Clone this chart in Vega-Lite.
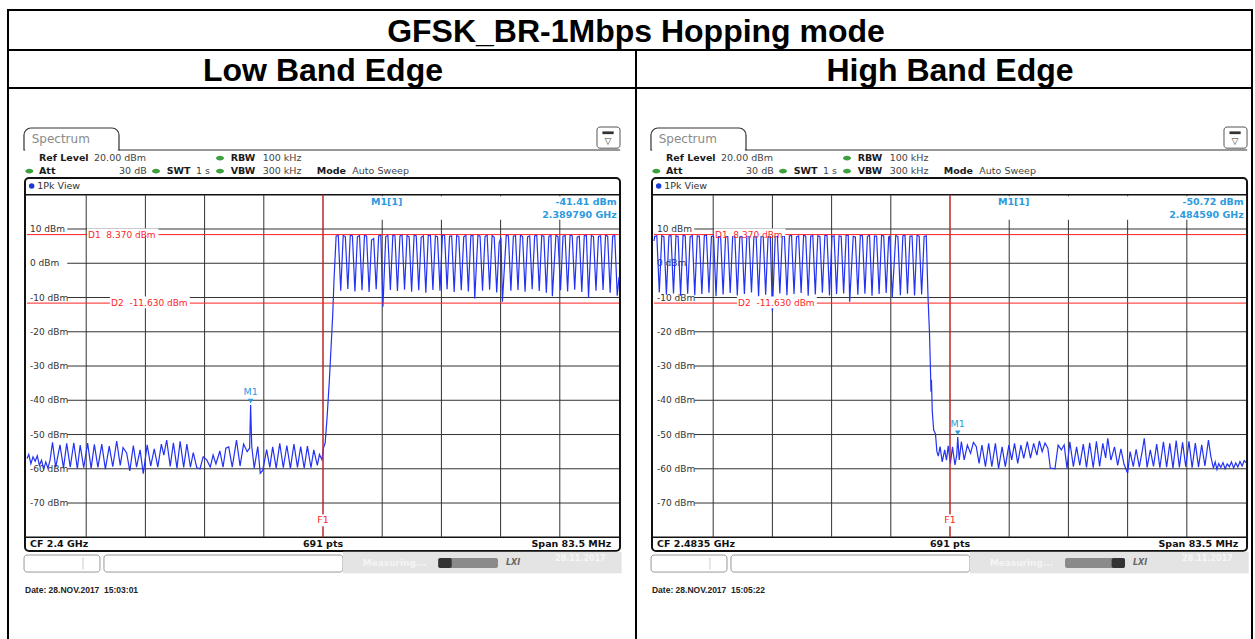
{
"$schema": "https://vega.github.io/schema/vega-lite/v6.json",
"padding": {"left": 7, "top": 9, "right": 0, "bottom": 0},
"background": "white",
"spacing": 0,
"bounds": "flush",
"config": {
  "axis": {"disable": true},
  "style": {
    "hb": {"font": "DejaVu Sans", "fontSize": 9.5, "fontWeight": "bold", "color": "#1a1a1a", "align": "left", "baseline": "middle"},
    "hn": {"font": "DejaVu Sans", "fontSize": 9.5, "fontWeight": "normal", "color": "#444444", "align": "left", "baseline": "middle"},
    "yl": {"font": "DejaVu Sans", "fontSize": 9, "color": "#333333", "align": "left", "baseline": "middle"},
    "rd": {"font": "DejaVu Sans", "fontSize": 9, "color": "#ff1f1f", "align": "left", "baseline": "middle"},
    "mk": {"font": "DejaVu Sans", "fontSize": 9.5, "fontWeight": "bold", "color": "#2d9ae0", "baseline": "middle"},
    "ft": {"font": "DejaVu Sans", "fontSize": 9.5, "fontWeight": "bold", "color": "#111111", "baseline": "middle"},
    "dt": {"font": "Liberation Sans", "fontSize": 8.5, "fontWeight": "bold", "color": "#222222", "align": "left", "baseline": "middle"}
  }
},
"datasets": {
  "hgrid": [{"v":10,"lab":"10 dBm"},{"v":0,"lab":"0 dBm"},{"v":-10,"lab":"-10 dBm"},{"v":-20,"lab":"-20 dBm"},{"v":-30,"lab":"-30 dBm"},{"v":-40,"lab":"-40 dBm"},{"v":-50,"lab":"-50 dBm"},{"v":-60,"lab":"-60 dBm"},{"v":-70,"lab":"-70 dBm"}],
  "vgrid": [{"d":1},{"d":2},{"d":3},{"d":4},{"d":5},{"d":6},{"d":7},{"d":8},{"d":9}],
  "low": [
{"f":2358.25,"p":-57.0},{"f":2358.5,"p":-55.8},{"f":2358.8,"p":-58.5},{"f":2359.1,"p":-56.5},{"f":2359.4,"p":-57.8},{"f":2359.7,"p":-56.2},{"f":2360.0,"p":-59.0},{"f":2360.3,"p":-57.5},{"f":2360.6,"p":-60.2},{"f":2360.9,"p":-58.0},{"f":2361.2,"p":-59.8},{"f":2361.5,"p":-57.5},{"f":2361.85,"p":-52.3},{"f":2362.3,"p":-59.6},{"f":2362.9,"p":-53.0},{"f":2363.4,"p":-59.8},{"f":2363.85,"p":-52.6},{"f":2364.35,"p":-59.5},{"f":2364.85,"p":-52.4},{"f":2365.35,"p":-60.0},{"f":2365.75,"p":-53.1},{"f":2366.25,"p":-59.7},{"f":2366.8,"p":-52.5},{"f":2367.3,"p":-59.9},{"f":2367.75,"p":-52.9},{"f":2368.25,"p":-59.6},{"f":2368.8,"p":-52.8},{"f":2369.3,"p":-60.1},{"f":2369.85,"p":-53.4},{"f":2370.35,"p":-59.4},{"f":2370.9,"p":-51.9},{"f":2371.4,"p":-59.0},{"f":2371.8,"p":-53.8},{"f":2372.3,"p":-55.4},{"f":2372.75,"p":-60.6},{"f":2373.25,"p":-53.2},{"f":2373.7,"p":-59.5},{"f":2374.2,"p":-54.5},{"f":2374.65,"p":-61.4},{"f":2375.2,"p":-53.0},{"f":2375.7,"p":-59.2},{"f":2376.2,"p":-54.2},{"f":2376.7,"p":-59.5},{"f":2377.2,"p":-52.8},{"f":2377.55,"p":-56.0},{"f":2377.95,"p":-51.6},{"f":2378.45,"p":-59.3},{"f":2378.9,"p":-52.4},{"f":2379.4,"p":-59.8},{"f":2379.85,"p":-52.0},{"f":2380.35,"p":-59.6},{"f":2380.8,"p":-52.8},{"f":2381.3,"p":-59.5},{"f":2381.7,"p":-55.3},{"f":2382.2,"p":-59.7},{"f":2382.65,"p":-60.0},{"f":2383.1,"p":-56.5},{"f":2383.6,"p":-57.4},{"f":2384.1,"p":-59.5},{"f":2384.5,"p":-56.0},{"f":2384.9,"p":-58.6},{"f":2385.45,"p":-54.8},{"f":2385.9,"p":-59.5},{"f":2386.3,"p":-54.0},{"f":2386.7,"p":-53.6},{"f":2387.2,"p":-59.5},{"f":2387.8,"p":-51.6},{"f":2388.3,"p":-59.2},{"f":2388.8,"p":-52.8},{"f":2389.3,"p":-55.0},{"f":2389.65,"p":-54.0},{"f":2389.79,"p":-41.41},{"f":2389.95,"p":-53.5},{"f":2390.3,"p":-59.8},{"f":2390.8,"p":-53.5},{"f":2391.15,"p":-61.3},{"f":2391.5,"p":-60.5},{"f":2392.05,"p":-54.4},{"f":2392.5,"p":-59.6},{"f":2392.9,"p":-53.6},{"f":2393.4,"p":-59.8},{"f":2393.9,"p":-52.6},{"f":2394.4,"p":-59.7},{"f":2394.9,"p":-53.2},{"f":2395.4,"p":-59.9},{"f":2395.9,"p":-52.8},{"f":2396.4,"p":-59.6},{"f":2396.85,"p":-53.5},{"f":2397.35,"p":-59.8},{"f":2397.8,"p":-53.4},{"f":2398.3,"p":-59.7},{"f":2398.7,"p":-54.5},{"f":2399.2,"p":-59.0},{"f":2399.5,"p":-55.8},{"f":2399.86,"p":-57.4},{"f":2400.05,"p":-54.0},{"f":2400.3,"p":-52.5},{"f":2400.55,"p":-45.8},{"f":2400.9,"p":-34.0},{"f":2401.15,"p":-24.0},{"f":2401.37,"p":-15.0},{"f":2401.55,"p":-5.0},
{"f":2401.85,"p":7.9},{"f":2402.15,"p":8.2},{"f":2402.5,"p":-8.0},
{"f":2402.85,"p":8.1},{"f":2403.15,"p":7.8},{"f":2403.5,"p":-7.5},
{"f":2403.85,"p":8.3},{"f":2404.15,"p":8.0},{"f":2404.5,"p":-8.2},
{"f":2404.85,"p":7.7},{"f":2405.15,"p":8.1},{"f":2405.5,"p":-7.9},
{"f":2405.85,"p":8.2},{"f":2406.15,"p":7.9},{"f":2406.5,"p":-8.4},
{"f":2406.85,"p":6.8},{"f":2407.15,"p":7.2},{"f":2407.5,"p":-7.6},
{"f":2407.85,"p":8.0},{"f":2408.15,"p":8.3},{"f":2408.45,"p":-12.7},
{"f":2408.85,"p":7.8},{"f":2409.15,"p":8.1},{"f":2409.5,"p":-7.8},
{"f":2409.85,"p":8.2},{"f":2410.15,"p":8.0},{"f":2410.5,"p":-8.1},
{"f":2410.85,"p":7.9},{"f":2411.15,"p":8.3},{"f":2411.5,"p":-7.7},
{"f":2411.85,"p":8.1},{"f":2412.15,"p":7.7},{"f":2412.5,"p":-8.3},
{"f":2412.85,"p":8.3},{"f":2413.15,"p":8.0},{"f":2413.5,"p":-7.9},
{"f":2413.85,"p":7.6},{"f":2414.15,"p":8.0},{"f":2414.5,"p":-8.6},
{"f":2414.85,"p":8.2},{"f":2415.15,"p":8.1},{"f":2415.5,"p":-7.8},
{"f":2415.85,"p":8.0},{"f":2416.15,"p":7.7},{"f":2416.5,"p":-8.0},
{"f":2416.85,"p":8.3},{"f":2417.15,"p":8.2},{"f":2417.5,"p":-7.6},
{"f":2417.85,"p":7.9},{"f":2418.15,"p":8.0},{"f":2418.5,"p":-8.4},
{"f":2418.85,"p":8.1},{"f":2419.15,"p":7.8},{"f":2419.5,"p":-7.9},
{"f":2419.85,"p":7.7},{"f":2420.15,"p":8.2},{"f":2420.5,"p":-8.2},
{"f":2420.85,"p":8.0},{"f":2421.15,"p":8.1},{"f":2421.4,"p":-10.3},
{"f":2421.85,"p":8.2},{"f":2422.15,"p":7.9},{"f":2422.5,"p":-8.0},
{"f":2422.85,"p":7.8},{"f":2423.15,"p":8.3},{"f":2423.5,"p":-7.7},
{"f":2423.85,"p":8.1},{"f":2424.15,"p":7.6},{"f":2424.5,"p":-8.5},
{"f":2424.85,"p":6.0},{"f":2425.1,"p":7.5},{"f":2425.3,"p":-11.2},
{"f":2425.85,"p":8.2},{"f":2426.15,"p":8.0},{"f":2426.5,"p":-8.0},
{"f":2426.85,"p":7.9},{"f":2427.15,"p":8.1},{"f":2427.5,"p":-7.8},
{"f":2427.85,"p":8.3},{"f":2428.15,"p":7.8},{"f":2428.5,"p":-8.3},
{"f":2428.85,"p":7.7},{"f":2429.15,"p":8.0},{"f":2429.5,"p":-7.6},
{"f":2429.85,"p":8.0},{"f":2430.15,"p":8.2},{"f":2430.5,"p":-8.1},
{"f":2430.85,"p":8.1},{"f":2431.15,"p":7.9},{"f":2431.5,"p":-8.6},
{"f":2431.85,"p":7.8},{"f":2432.15,"p":8.2},{"f":2432.35,"p":-9.6},
{"f":2432.85,"p":8.2},{"f":2433.15,"p":7.7},{"f":2433.5,"p":-7.9},
{"f":2433.85,"p":7.9},{"f":2434.15,"p":8.1},{"f":2434.5,"p":-8.2},
{"f":2434.85,"p":8.3},{"f":2435.15,"p":8.0},{"f":2435.5,"p":-7.7},
{"f":2435.85,"p":7.6},{"f":2436.15,"p":7.9},{"f":2436.5,"p":-8.4},
{"f":2436.85,"p":8.0},{"f":2437.15,"p":8.2},{"f":2437.45,"p":-10.0},
{"f":2437.85,"p":8.1},{"f":2438.15,"p":7.8},{"f":2438.5,"p":-8.0},
{"f":2438.85,"p":7.8},{"f":2439.15,"p":8.0},{"f":2439.5,"p":-7.8},
{"f":2439.85,"p":8.2},{"f":2440.15,"p":7.9},{"f":2440.5,"p":-8.6},
{"f":2440.85,"p":7.9},{"f":2441.15,"p":8.1},{"f":2441.5,"p":-9.5},{"f":2441.75,"p":-4.0}
  ],
  "high": [
{"f":2441.75,"p":6.5},
{"f":2441.85,"p":7.8},{"f":2442.15,"p":8.0},{"f":2442.5,"p":-8.5},
{"f":2442.85,"p":8.1},{"f":2443.15,"p":7.7},{"f":2443.5,"p":-9.2},
{"f":2443.85,"p":7.9},{"f":2444.15,"p":8.2},{"f":2444.5,"p":-8.8},
{"f":2444.85,"p":8.0},{"f":2445.15,"p":7.8},{"f":2445.5,"p":-9.5},
{"f":2445.85,"p":8.2},{"f":2446.15,"p":8.0},{"f":2446.5,"p":-8.9},
{"f":2446.85,"p":7.7},{"f":2447.15,"p":8.1},{"f":2447.5,"p":-9.3},
{"f":2447.85,"p":8.0},{"f":2448.15,"p":7.9},{"f":2448.5,"p":-9.0},
{"f":2448.85,"p":8.1},{"f":2449.15,"p":8.2},{"f":2449.5,"p":-8.6},
{"f":2449.85,"p":7.8},{"f":2450.15,"p":8.0},{"f":2450.5,"p":-9.6},
{"f":2450.85,"p":8.2},{"f":2451.15,"p":7.7},{"f":2451.5,"p":-9.1},
{"f":2451.85,"p":7.9},{"f":2452.15,"p":8.0},{"f":2452.5,"p":-8.7},
{"f":2452.85,"p":8.0},{"f":2453.15,"p":8.2},{"f":2453.5,"p":-9.4},
{"f":2453.85,"p":7.7},{"f":2454.15,"p":7.9},{"f":2454.5,"p":-9.0},
{"f":2454.85,"p":8.1},{"f":2455.15,"p":8.0},{"f":2455.5,"p":-8.5},
{"f":2455.85,"p":8.0},{"f":2456.15,"p":8.2},{"f":2456.5,"p":-9.7},
{"f":2456.85,"p":7.8},{"f":2457.15,"p":8.1},{"f":2457.5,"p":-9.2},
{"f":2457.85,"p":8.2},{"f":2458.15,"p":7.9},{"f":2458.45,"p":-14.0},
{"f":2458.85,"p":7.9},{"f":2459.15,"p":8.0},{"f":2459.5,"p":-8.8},
{"f":2459.85,"p":8.1},{"f":2460.15,"p":7.8},{"f":2460.5,"p":-9.3},
{"f":2460.85,"p":8.0},{"f":2461.15,"p":8.2},{"f":2461.5,"p":-9.0},
{"f":2461.85,"p":7.7},{"f":2462.15,"p":8.0},{"f":2462.5,"p":-8.7},
{"f":2462.85,"p":8.2},{"f":2463.15,"p":7.9},{"f":2463.5,"p":-9.5},
{"f":2463.85,"p":7.9},{"f":2464.15,"p":8.1},{"f":2464.5,"p":-9.1},
{"f":2464.85,"p":8.0},{"f":2465.15,"p":7.8},{"f":2465.5,"p":-8.6},
{"f":2465.85,"p":8.1},{"f":2466.15,"p":8.2},{"f":2466.5,"p":-9.4},
{"f":2466.85,"p":7.8},{"f":2467.15,"p":8.0},{"f":2467.5,"p":-9.0},
{"f":2467.85,"p":8.0},{"f":2468.15,"p":7.9},{"f":2468.5,"p":-8.8},
{"f":2468.85,"p":8.2},{"f":2469.15,"p":8.1},{"f":2469.35,"p":-11.2},
{"f":2469.85,"p":7.9},{"f":2470.15,"p":7.7},{"f":2470.5,"p":-9.2},
{"f":2470.85,"p":8.1},{"f":2471.15,"p":8.0},{"f":2471.5,"p":-8.9},
{"f":2471.85,"p":7.8},{"f":2472.15,"p":8.2},{"f":2472.5,"p":-9.5},
{"f":2472.85,"p":8.0},{"f":2473.15,"p":7.9},{"f":2473.5,"p":-9.0},
{"f":2473.85,"p":8.2},{"f":2474.15,"p":8.0},{"f":2474.5,"p":-8.7},
{"f":2474.85,"p":7.7},{"f":2475.0,"p":7.9},{"f":2475.1,"p":2.9},{"f":2475.35,"p":-10.0},
{"f":2475.85,"p":8.1},{"f":2476.15,"p":7.8},{"f":2476.5,"p":-9.3},
{"f":2476.85,"p":8.0},{"f":2477.15,"p":8.2},{"f":2477.5,"p":-8.9},
{"f":2477.85,"p":7.9},{"f":2478.15,"p":8.0},{"f":2478.5,"p":-9.4},
{"f":2478.85,"p":8.2},{"f":2479.15,"p":7.9},{"f":2479.5,"p":-9.1},
{"f":2479.85,"p":7.8},{"f":2480.15,"p":8.0},
{"f":2480.4,"p":-10.0},{"f":2480.6,"p":-20.0},{"f":2480.75,"p":-31.5},{"f":2480.82,"p":-37.5},{"f":2480.88,"p":-34.0},{"f":2481.0,"p":-43.3},{"f":2481.2,"p":-48.7},{"f":2481.45,"p":-49.8},{"f":2481.65,"p":-55.0},
{"f":2481.85,"p":-56.3},{"f":2482.1,"p":-53.5},{"f":2482.4,"p":-58.0},{"f":2482.75,"p":-54.5},{"f":2483.0,"p":-57.5},{"f":2483.25,"p":-53.3},{"f":2483.55,"p":-58.5},{"f":2483.85,"p":-53.6},{"f":2484.2,"p":-58.9},{"f":2484.45,"p":-56.0},{"f":2484.59,"p":-50.7},{"f":2484.8,"p":-57.4},{"f":2485.1,"p":-52.1},{"f":2485.5,"p":-57.4},{"f":2485.95,"p":-53.1},{"f":2486.4,"p":-55.5},{"f":2486.8,"p":-52.3},{"f":2487.2,"p":-53.5},{"f":2487.6,"p":-58.4},{"f":2488.0,"p":-53.1},{"f":2488.5,"p":-59.4},{"f":2488.95,"p":-52.6},{"f":2489.4,"p":-59.4},{"f":2489.9,"p":-52.6},{"f":2490.35,"p":-59.9},{"f":2490.85,"p":-53.6},{"f":2491.3,"p":-59.4},{"f":2491.8,"p":-53.1},{"f":2492.2,"p":-57.4},{"f":2492.6,"p":-52.6},{"f":2493.05,"p":-58.4},{"f":2493.5,"p":-53.1},{"f":2493.9,"p":-57.0},{"f":2494.4,"p":-52.1},{"f":2494.85,"p":-56.9},{"f":2495.3,"p":-52.6},{"f":2495.75,"p":-56.0},{"f":2496.1,"p":-51.9},{"f":2496.5,"p":-55.0},{"f":2496.9,"p":-52.5},{"f":2497.3,"p":-54.0},{"f":2497.65,"p":-59.8},{"f":2498.3,"p":-60.0},{"f":2498.75,"p":-53.1},{"f":2499.2,"p":-54.5},{"f":2499.6,"p":-53.0},{"f":2500.0,"p":-59.9},{"f":2500.4,"p":-52.1},{"f":2500.9,"p":-59.4},{"f":2501.35,"p":-53.6},{"f":2501.8,"p":-59.0},{"f":2502.3,"p":-52.8},{"f":2502.75,"p":-59.6},{"f":2503.2,"p":-52.4},{"f":2503.7,"p":-59.7},{"f":2504.15,"p":-52.0},{"f":2504.6,"p":-59.3},{"f":2505.05,"p":-52.6},{"f":2505.45,"p":-56.8},{"f":2505.75,"p":-51.1},{"f":2506.2,"p":-57.5},{"f":2506.7,"p":-53.6},{"f":2507.15,"p":-59.0},{"f":2507.6,"p":-54.2},{"f":2508.05,"p":-58.7},{"f":2508.55,"p":-61.3},{"f":2508.9,"p":-55.0},{"f":2509.35,"p":-59.4},{"f":2509.75,"p":-54.3},{"f":2510.2,"p":-59.5},{"f":2510.6,"p":-55.0},{"f":2510.9,"p":-51.1},{"f":2511.3,"p":-59.6},{"f":2511.75,"p":-54.5},{"f":2512.2,"p":-59.3},{"f":2512.65,"p":-52.8},{"f":2513.1,"p":-59.7},{"f":2513.6,"p":-52.1},{"f":2514.05,"p":-59.5},{"f":2514.5,"p":-52.6},{"f":2514.95,"p":-59.8},{"f":2515.4,"p":-51.8},{"f":2515.85,"p":-59.6},{"f":2516.3,"p":-52.3},{"f":2516.75,"p":-59.4},{"f":2517.2,"p":-52.0},{"f":2517.65,"p":-59.7},{"f":2518.1,"p":-52.5},{"f":2518.55,"p":-59.5},{"f":2519.0,"p":-53.0},{"f":2519.45,"p":-59.2},{"f":2519.95,"p":-51.6},{"f":2520.3,"p":-56.5},{"f":2520.65,"p":-59.8},{"f":2520.9,"p":-58.0},{"f":2521.15,"p":-60.2},{"f":2521.4,"p":-58.5},{"f":2521.7,"p":-59.6},{"f":2522.0,"p":-58.2},{"f":2522.3,"p":-60.0},{"f":2522.6,"p":-58.6},{"f":2522.9,"p":-59.4},{"f":2523.2,"p":-58.0},{"f":2523.5,"p":-59.8},{"f":2523.8,"p":-58.3},{"f":2524.1,"p":-59.5},{"f":2524.4,"p":-57.9},{"f":2524.7,"p":-59.2},{"f":2525.0,"p":-57.6},{"f":2525.25,"p":-58.2}
  ]
},
"vconcat": [
  {"width": 1244, "height": 40, "view": {"stroke": "black", "strokeWidth": 2},
   "data": {"values": [{"t": "GFSK_BR-1Mbps Hopping mode"}]},
   "mark": {"type": "text", "font": "Liberation Sans", "fontSize": 32, "fontWeight": "bold", "color": "#000000", "dy": 2, "dx": 6},
   "encoding": {"text": {"field": "t"}}},
  {"spacing": 0, "bounds": "flush", "hconcat": [
   {"width": 628, "height": 589, "view": {"stroke": null},
    "data": {"values": [{}]},
    "resolve": {"scale": {"x": "independent"}},
    "layer": [
     {"layer": [
      {"mark": {"type": "rect", "fill": "white", "stroke": "#333333", "strokeWidth": 1.2, "cornerRadiusTopLeft": 7, "cornerRadiusTopRight": 7},
       "encoding": {"x": {"datum": -0.051, "type": "quantitative", "scale": {"domain": [-0.321, 10.287], "nice": false, "zero": false}}, "x2": {"datum": 1.554}, "y": {"datum": 39.49, "type": "quantitative", "scale": {"domain": [-109.7, 62.265], "nice": false, "zero": false}}, "y2": {"datum": 33.07}}},
      {"mark": {"type": "text", "text": "Low Band Edge", "font": "Liberation Sans", "fontSize": 32, "fontWeight": "bold", "color": "#000000", "align": "center", "baseline": "middle"}, "encoding": {"x": {"datum": 5.0}, "y": {"datum": 56.2}}},
      {"mark": {"type": "rule", "color": "black", "strokeWidth": 2}, "encoding": {"x": {"datum": -0.321}, "x2": {"datum": 10.287}, "y": {"datum": 51.17}}},
      {"mark": {"type": "rule", "color": "white", "strokeWidth": 2.5}, "encoding": {"x": {"datum": -0.03}, "x2": {"datum": 1.535}, "y": {"datum": 33.07}}},
      {"mark": {"type": "rule", "color": "#333333", "strokeWidth": 1.2}, "encoding": {"x": {"datum": 1.554}, "x2": {"datum": 10.02}, "y": {"datum": 33.07}}},
      {"mark": {"type": "rect", "fill": "white", "stroke": "#555555", "strokeWidth": 1, "cornerRadius": 3}, "encoding": {"x": {"datum": 9.628}, "x2": {"datum": 10.017}, "y": {"datum": 39.78}, "y2": {"datum": 33.6}}},
      {"mark": {"type": "rect", "color": "#333333"}, "encoding": {"x": {"datum": 9.72}, "x2": {"datum": 9.91}, "y": {"datum": 38.5}, "y2": {"datum": 37.7}}},
      {"mark": {"type": "text", "text": "▽", "font": "DejaVu Sans", "fontSize": 9, "color": "#333333"}, "encoding": {"x": {"datum": 9.814}, "y": {"datum": 35.6}}},
      {"mark": {"type": "text", "style": "hn", "text": "Spectrum", "fontSize": 12, "color": "#8a8a8a"}, "encoding": {"x": {"datum": 0.079}, "y": {"datum": 36.28}}},
      {"mark": {"type": "text", "style": "hb", "text": "Ref Level"}, "encoding": {"x": {"datum": 0.2027}, "y": {"datum": 30.7}}},
      {"mark": {"type": "text", "style": "hn", "text": "20.00 dBm"}, "encoding": {"x": {"datum": 1.132}, "y": {"datum": 30.7}}},
      {"mark": {"type": "text", "style": "hb", "text": "RBW"}, "encoding": {"x": {"datum": 3.441}, "y": {"datum": 30.7}}},
      {"mark": {"type": "text", "style": "hn", "text": "100 kHz"}, "encoding": {"x": {"datum": 3.981}, "y": {"datum": 30.7}}},
      {"mark": {"type": "text", "style": "hb", "text": "Att"}, "encoding": {"x": {"datum": 0.2027}, "y": {"datum": 26.93}}},
      {"mark": {"type": "text", "style": "hn", "text": "30 dB", "align": "right"}, "encoding": {"x": {"datum": 2.022}, "y": {"datum": 26.93}}},
      {"mark": {"type": "text", "style": "hb", "text": "SWT"}, "encoding": {"x": {"datum": 2.36}, "y": {"datum": 26.93}}},
      {"mark": {"type": "text", "style": "hn", "text": "1 s"}, "encoding": {"x": {"datum": 2.855}, "y": {"datum": 26.93}}},
      {"mark": {"type": "text", "style": "hb", "text": "VBW"}, "encoding": {"x": {"datum": 3.441}, "y": {"datum": 26.93}}},
      {"mark": {"type": "text", "style": "hn", "text": "300 kHz"}, "encoding": {"x": {"datum": 3.981}, "y": {"datum": 26.93}}},
      {"mark": {"type": "text", "style": "hb", "text": "Mode"}, "encoding": {"x": {"datum": 4.894}, "y": {"datum": 26.93}}},
      {"mark": {"type": "text", "style": "hn", "text": "Auto Sweep"}, "encoding": {"x": {"datum": 5.495}, "y": {"datum": 26.93}}},
      {"mark": {"type": "point", "shape": "M-1,0A1,0.6,0,1,1,1,0A1,0.6,0,1,1,-1,0Z", "filled": true, "color": "#3f9f3f", "size": 64, "opacity": 1}, "encoding": {"x": {"datum": 3.26}, "y": {"datum": 30.7}}},
      {"mark": {"type": "point", "shape": "M-1,0A1,0.6,0,1,1,1,0A1,0.6,0,1,1,-1,0Z", "filled": true, "color": "#3f9f3f", "size": 64, "opacity": 1}, "encoding": {"x": {"datum": 0.039}, "y": {"datum": 26.93}}},
      {"mark": {"type": "point", "shape": "M-1,0A1,0.6,0,1,1,1,0A1,0.6,0,1,1,-1,0Z", "filled": true, "color": "#3f9f3f", "size": 64, "opacity": 1}, "encoding": {"x": {"datum": 2.179}, "y": {"datum": 26.93}}},
      {"mark": {"type": "point", "shape": "M-1,0A1,0.6,0,1,1,1,0A1,0.6,0,1,1,-1,0Z", "filled": true, "color": "#3f9f3f", "size": 64, "opacity": 1}, "encoding": {"x": {"datum": 3.26}, "y": {"datum": 26.93}}},
      {"mark": {"type": "rect", "filled": false, "stroke": "#111111", "strokeWidth": 2, "cornerRadius": 4}, "encoding": {"x": {"datum": -0.0338}, "x2": {"datum": 10.017}, "y": {"datum": 24.89}, "y2": {"datum": -84.01}}},
      {"mark": {"type": "point", "shape": "circle", "filled": true, "color": "#1a3ad8", "size": 30, "opacity": 1}, "encoding": {"x": {"datum": 0.079}, "y": {"datum": 22.55}}},
      {"mark": {"type": "text", "style": "hn", "text": "1Pk View", "color": "#333333"}, "encoding": {"x": {"datum": 0.174}, "y": {"datum": 22.55}}},
      {"mark": {"type": "rule", "color": "#111111", "strokeWidth": 1.5}, "encoding": {"x": {"datum": -0.0338}, "x2": {"datum": 10.017}, "y": {"datum": 20}}},
      {"mark": {"type": "rule", "color": "#111111", "strokeWidth": 1.5}, "encoding": {"x": {"datum": -0.0338}, "x2": {"datum": 10.017}, "y": {"datum": -80}}},
      {"data": {"name": "vgrid"}, "mark": {"type": "rule", "color": "#333333", "strokeWidth": 1}, "encoding": {"x": {"field": "d", "type": "quantitative"}, "y": {"datum": 20}, "y2": {"datum": -80}}},
      {"mark": {"type": "rect", "color": "white"}, "encoding": {"x": {"datum": 5.118}, "x2": {"datum": 10.0}, "y": {"datum": 19.6}, "y2": {"datum": 12.7}}},
      {"data": {"name": "hgrid"}, "mark": {"type": "rule", "color": "#333333", "strokeWidth": 1}, "encoding": {"x": {"datum": 0.68}, "x2": {"datum": 10}, "y": {"field": "v", "type": "quantitative"}}},
      {"data": {"name": "hgrid"}, "mark": {"type": "text", "style": "yl"}, "encoding": {"x": {"datum": 0.0507}, "y": {"field": "v", "type": "quantitative"}, "text": {"field": "lab"}}},
      {"mark": {"type": "text", "style": "ft", "text": "CF 2.4 GHz", "align": "left"}, "encoding": {"x": {"datum": 0.0507}, "y": {"datum": -81.97}}},
      {"mark": {"type": "text", "style": "ft", "text": "691 pts", "align": "center"}, "encoding": {"x": {"datum": 5.0}, "y": {"datum": -81.97}}},
      {"mark": {"type": "text", "style": "ft", "text": "Span 83.5 MHz", "align": "right"}, "encoding": {"x": {"datum": 9.87}, "y": {"datum": -81.97}}},
      {"mark": {"type": "rect", "fill": "white", "stroke": "#999999", "strokeWidth": 1, "cornerRadius": 3}, "encoding": {"x": {"datum": -0.05}, "x2": {"datum": 1.233}, "y": {"datum": -85.18}, "y2": {"datum": -90.15}}},
      {"mark": {"type": "rule", "color": "#cccccc", "strokeWidth": 1}, "encoding": {"x": {"datum": 0.946}, "y": {"datum": -85.9}, "y2": {"datum": -89.4}}},
      {"mark": {"type": "rect", "fill": "white", "stroke": "#999999", "strokeWidth": 1, "cornerRadius": 3}, "encoding": {"x": {"datum": 1.3}, "x2": {"datum": 5.338}, "y": {"datum": -85.18}, "y2": {"datum": -90.15}}},
      {"mark": {"type": "rect", "color": "#e4e4e4"}, "encoding": {"x": {"datum": 5.338}, "x2": {"datum": 10.045}, "y": {"datum": -84.2}, "y2": {"datum": -90.5}}},
      {"mark": {"type": "rect", "color": "#8a8a8a", "cornerRadius": 2}, "encoding": {"x": {"datum": 6.943}, "x2": {"datum": 7.956}, "y": {"datum": -86.06}, "y2": {"datum": -88.98}}},
      {"mark": {"type": "rect", "color": "#333333", "cornerRadius": 2}, "encoding": {"x": {"datum": 6.948}, "x2": {"datum": 7.174}, "y": {"datum": -86.06}, "y2": {"datum": -88.98}}},
      {"mark": {"type": "text", "text": "LXI", "font": "DejaVu Sans", "fontSize": 8, "fontWeight": "bold", "fontStyle": "italic", "color": "#666666"}, "encoding": {"x": {"datum": 8.21}, "y": {"datum": -87.4}}},
      {"mark": {"type": "text", "text": "Measuring...", "font": "DejaVu Sans", "fontSize": 9, "fontWeight": "bold", "color": "#f4f4f4", "align": "left"}, "encoding": {"x": {"datum": 5.67}, "y": {"datum": -87.6}}},
      {"mark": {"type": "text", "text": "28.11.2017", "font": "DejaVu Sans", "fontSize": 8, "fontWeight": "bold", "color": "#f6f6f6", "align": "left"}, "encoding": {"x": {"datum": 8.92}, "y": {"datum": -86.4}}},
      {"mark": {"type": "text", "style": "dt", "text": "Date: 28.NOV.2017 \u00a015:03:01"}, "encoding": {"x": {"datum": -0.034}, "y": {"datum": -95.4}}},
      {"mark": {"type": "rule", "color": "black", "strokeWidth": 2}, "encoding": {"x": {"datum": -0.321}, "y": {"datum": 62.265}, "y2": {"datum": -109.7}}},
      {"mark": {"type": "rule", "color": "black", "strokeWidth": 2}, "encoding": {"x": {"datum": 10.287}, "y": {"datum": 62.265}, "y2": {"datum": -109.7}}}
     ]},
     {"layer": [
      {"data": {"name": "low"}, "mark": {"type": "line", "color": "#2332f2", "strokeWidth": 1.2}, "encoding": {"x": {"field": "f", "type": "quantitative", "scale": {"domain": [2355.57, 2444.146], "nice": false, "zero": false}}, "y": {"field": "p", "type": "quantitative"}}},
      {"mark": {"type": "point", "shape": "triangle-down", "filled": true, "color": "#2d9ae0", "size": 30, "yOffset": -4, "opacity": 1}, "encoding": {"x": {"datum": 2389.79}, "y": {"datum": -41.41}}},
      {"mark": {"type": "text", "style": "mk", "text": "M1", "fontWeight": "normal", "align": "center", "dy": -13}, "encoding": {"x": {"datum": 2389.79}, "y": {"datum": -41.41}}}
     ]},
     {"layer": [
      {"mark": {"type": "rule", "color": "#ff2020", "strokeWidth": 1}, "encoding": {"x": {"datum": 0, "type": "quantitative", "scale": {"domain": [-0.321, 10.287], "nice": false, "zero": false}}, "x2": {"datum": 10}, "y": {"datum": 8.37}}},
      {"mark": {"type": "rule", "color": "#ff2020", "strokeWidth": 1}, "encoding": {"x": {"datum": 0}, "x2": {"datum": 10}, "y": {"datum": -11.63}}},
      {"mark": {"type": "rule", "color": "#ff2020", "strokeWidth": 1}, "encoding": {"x": {"datum": 5}, "y": {"datum": 20}, "y2": {"datum": -80}}},
      {"mark": {"type": "rect", "color": "white"}, "encoding": {"x": {"datum": 1.0135}, "x2": {"datum": 2.22}, "y": {"datum": 10.15}, "y2": {"datum": 7.96}}},
      {"mark": {"type": "rect", "color": "white"}, "encoding": {"x": {"datum": 1.40}, "x2": {"datum": 2.75}, "y": {"datum": -9.7}, "y2": {"datum": -13.1}}},
      {"mark": {"type": "rect", "color": "white"}, "encoding": {"x": {"datum": 4.87}, "x2": {"datum": 5.12}, "y": {"datum": -73.3}, "y2": {"datum": -76.8}}},
      {"mark": {"type": "text", "style": "rd", "text": "D1 \u00a08.370 dBm"}, "encoding": {"x": {"datum": 1.03}, "y": {"datum": 8.37}}},
      {"mark": {"type": "text", "style": "rd", "text": "D2 \u00a0-11.630 dBm"}, "encoding": {"x": {"datum": 1.419}, "y": {"datum": -11.63}}},
      {"mark": {"type": "text", "style": "rd", "text": "F1", "align": "center", "fontSize": 9.5}, "encoding": {"x": {"datum": 5.0}, "y": {"datum": -75.0}}},
      {"mark": {"type": "text", "style": "mk", "text": "M1[1]", "align": "left"}, "encoding": {"x": {"datum": 5.811}, "y": {"datum": 17.8}}},
      {"mark": {"type": "text", "style": "mk", "text": "-41.41 dBm", "align": "right"}, "encoding": {"x": {"datum": 9.961}, "y": {"datum": 17.8}}},
      {"mark": {"type": "text", "style": "mk", "text": "2.389790 GHz", "align": "right"}, "encoding": {"x": {"datum": 9.961}, "y": {"datum": 14.09}}}
     ]}
    ]},
   {"width": 616, "height": 589, "view": {"stroke": null},
    "data": {"values": [{}]},
    "resolve": {"scale": {"x": "independent"}},
    "layer": [
     {"layer": [
      {"mark": {"type": "rect", "fill": "white", "stroke": "#333333", "strokeWidth": 1.2, "cornerRadiusTopLeft": 7, "cornerRadiusTopRight": 7},
       "encoding": {"x": {"datum": -0.051, "type": "quantitative", "scale": {"domain": [-0.304, 10.101], "nice": false, "zero": false}}, "x2": {"datum": 1.554}, "y": {"datum": 39.49, "type": "quantitative", "scale": {"domain": [-109.7, 62.265], "nice": false, "zero": false}}, "y2": {"datum": 33.07}}},
      {"mark": {"type": "text", "text": "High Band Edge", "font": "Liberation Sans", "fontSize": 32, "fontWeight": "bold", "color": "#000000", "align": "center", "baseline": "middle"}, "encoding": {"x": {"datum": 5.0}, "y": {"datum": 56.2}}},
      {"mark": {"type": "rule", "color": "black", "strokeWidth": 2}, "encoding": {"x": {"datum": -0.304}, "x2": {"datum": 10.101}, "y": {"datum": 51.17}}},
      {"mark": {"type": "rule", "color": "white", "strokeWidth": 2.5}, "encoding": {"x": {"datum": -0.03}, "x2": {"datum": 1.535}, "y": {"datum": 33.07}}},
      {"mark": {"type": "rule", "color": "#333333", "strokeWidth": 1.2}, "encoding": {"x": {"datum": 1.554}, "x2": {"datum": 10.02}, "y": {"datum": 33.07}}},
      {"mark": {"type": "rect", "fill": "white", "stroke": "#555555", "strokeWidth": 1, "cornerRadius": 3}, "encoding": {"x": {"datum": 9.628}, "x2": {"datum": 10.017}, "y": {"datum": 39.78}, "y2": {"datum": 33.6}}},
      {"mark": {"type": "rect", "color": "#333333"}, "encoding": {"x": {"datum": 9.72}, "x2": {"datum": 9.91}, "y": {"datum": 38.5}, "y2": {"datum": 37.7}}},
      {"mark": {"type": "text", "text": "▽", "font": "DejaVu Sans", "fontSize": 9, "color": "#333333"}, "encoding": {"x": {"datum": 9.814}, "y": {"datum": 35.6}}},
      {"mark": {"type": "text", "style": "hn", "text": "Spectrum", "fontSize": 12, "color": "#8a8a8a"}, "encoding": {"x": {"datum": 0.079}, "y": {"datum": 36.28}}},
      {"mark": {"type": "text", "style": "hb", "text": "Ref Level"}, "encoding": {"x": {"datum": 0.2027}, "y": {"datum": 30.7}}},
      {"mark": {"type": "text", "style": "hn", "text": "20.00 dBm"}, "encoding": {"x": {"datum": 1.132}, "y": {"datum": 30.7}}},
      {"mark": {"type": "text", "style": "hb", "text": "RBW"}, "encoding": {"x": {"datum": 3.441}, "y": {"datum": 30.7}}},
      {"mark": {"type": "text", "style": "hn", "text": "100 kHz"}, "encoding": {"x": {"datum": 3.981}, "y": {"datum": 30.7}}},
      {"mark": {"type": "text", "style": "hb", "text": "Att"}, "encoding": {"x": {"datum": 0.2027}, "y": {"datum": 26.93}}},
      {"mark": {"type": "text", "style": "hn", "text": "30 dB", "align": "right"}, "encoding": {"x": {"datum": 2.022}, "y": {"datum": 26.93}}},
      {"mark": {"type": "text", "style": "hb", "text": "SWT"}, "encoding": {"x": {"datum": 2.36}, "y": {"datum": 26.93}}},
      {"mark": {"type": "text", "style": "hn", "text": "1 s"}, "encoding": {"x": {"datum": 2.855}, "y": {"datum": 26.93}}},
      {"mark": {"type": "text", "style": "hb", "text": "VBW"}, "encoding": {"x": {"datum": 3.441}, "y": {"datum": 26.93}}},
      {"mark": {"type": "text", "style": "hn", "text": "300 kHz"}, "encoding": {"x": {"datum": 3.981}, "y": {"datum": 26.93}}},
      {"mark": {"type": "text", "style": "hb", "text": "Mode"}, "encoding": {"x": {"datum": 4.894}, "y": {"datum": 26.93}}},
      {"mark": {"type": "text", "style": "hn", "text": "Auto Sweep"}, "encoding": {"x": {"datum": 5.495}, "y": {"datum": 26.93}}},
      {"mark": {"type": "point", "shape": "M-1,0A1,0.6,0,1,1,1,0A1,0.6,0,1,1,-1,0Z", "filled": true, "color": "#3f9f3f", "size": 64, "opacity": 1}, "encoding": {"x": {"datum": 3.26}, "y": {"datum": 30.7}}},
      {"mark": {"type": "point", "shape": "M-1,0A1,0.6,0,1,1,1,0A1,0.6,0,1,1,-1,0Z", "filled": true, "color": "#3f9f3f", "size": 64, "opacity": 1}, "encoding": {"x": {"datum": 0.039}, "y": {"datum": 26.93}}},
      {"mark": {"type": "point", "shape": "M-1,0A1,0.6,0,1,1,1,0A1,0.6,0,1,1,-1,0Z", "filled": true, "color": "#3f9f3f", "size": 64, "opacity": 1}, "encoding": {"x": {"datum": 2.179}, "y": {"datum": 26.93}}},
      {"mark": {"type": "point", "shape": "M-1,0A1,0.6,0,1,1,1,0A1,0.6,0,1,1,-1,0Z", "filled": true, "color": "#3f9f3f", "size": 64, "opacity": 1}, "encoding": {"x": {"datum": 3.26}, "y": {"datum": 26.93}}},
      {"mark": {"type": "rect", "filled": false, "stroke": "#111111", "strokeWidth": 2, "cornerRadius": 4}, "encoding": {"x": {"datum": -0.0338}, "x2": {"datum": 10.017}, "y": {"datum": 24.89}, "y2": {"datum": -84.01}}},
      {"mark": {"type": "point", "shape": "circle", "filled": true, "color": "#1a3ad8", "size": 30, "opacity": 1}, "encoding": {"x": {"datum": 0.079}, "y": {"datum": 22.55}}},
      {"mark": {"type": "text", "style": "hn", "text": "1Pk View", "color": "#333333"}, "encoding": {"x": {"datum": 0.174}, "y": {"datum": 22.55}}},
      {"mark": {"type": "rule", "color": "#111111", "strokeWidth": 1.5}, "encoding": {"x": {"datum": -0.0338}, "x2": {"datum": 10.017}, "y": {"datum": 20}}},
      {"mark": {"type": "rule", "color": "#111111", "strokeWidth": 1.5}, "encoding": {"x": {"datum": -0.0338}, "x2": {"datum": 10.017}, "y": {"datum": -80}}},
      {"data": {"name": "vgrid"}, "mark": {"type": "rule", "color": "#333333", "strokeWidth": 1}, "encoding": {"x": {"field": "d", "type": "quantitative"}, "y": {"datum": 20}, "y2": {"datum": -80}}},
      {"mark": {"type": "rect", "color": "white"}, "encoding": {"x": {"datum": 5.118}, "x2": {"datum": 10.0}, "y": {"datum": 19.6}, "y2": {"datum": 12.7}}},
      {"data": {"name": "hgrid"}, "mark": {"type": "rule", "color": "#333333", "strokeWidth": 1}, "encoding": {"x": {"datum": 0.68}, "x2": {"datum": 10}, "y": {"field": "v", "type": "quantitative"}}},
      {"data": {"name": "hgrid"}, "mark": {"type": "text", "style": "yl"}, "encoding": {"x": {"datum": 0.0507}, "y": {"field": "v", "type": "quantitative"}, "text": {"field": "lab"}}},
      {"mark": {"type": "text", "style": "ft", "text": "CF 2.4835 GHz", "align": "left"}, "encoding": {"x": {"datum": 0.0507}, "y": {"datum": -81.97}}},
      {"mark": {"type": "text", "style": "ft", "text": "691 pts", "align": "center"}, "encoding": {"x": {"datum": 5.0}, "y": {"datum": -81.97}}},
      {"mark": {"type": "text", "style": "ft", "text": "Span 83.5 MHz", "align": "right"}, "encoding": {"x": {"datum": 9.87}, "y": {"datum": -81.97}}},
      {"mark": {"type": "rect", "fill": "white", "stroke": "#999999", "strokeWidth": 1, "cornerRadius": 3}, "encoding": {"x": {"datum": -0.05}, "x2": {"datum": 1.233}, "y": {"datum": -85.18}, "y2": {"datum": -90.15}}},
      {"mark": {"type": "rule", "color": "#cccccc", "strokeWidth": 1}, "encoding": {"x": {"datum": 0.946}, "y": {"datum": -85.9}, "y2": {"datum": -89.4}}},
      {"mark": {"type": "rect", "fill": "white", "stroke": "#999999", "strokeWidth": 1, "cornerRadius": 3}, "encoding": {"x": {"datum": 1.3}, "x2": {"datum": 5.338}, "y": {"datum": -85.18}, "y2": {"datum": -90.15}}},
      {"mark": {"type": "rect", "color": "#e4e4e4"}, "encoding": {"x": {"datum": 5.338}, "x2": {"datum": 10.045}, "y": {"datum": -84.2}, "y2": {"datum": -90.5}}},
      {"mark": {"type": "rect", "color": "#8a8a8a", "cornerRadius": 2}, "encoding": {"x": {"datum": 6.943}, "x2": {"datum": 7.956}, "y": {"datum": -86.06}, "y2": {"datum": -88.98}}},
      {"mark": {"type": "rect", "color": "#333333", "cornerRadius": 2}, "encoding": {"x": {"datum": 7.73}, "x2": {"datum": 7.956}, "y": {"datum": -86.06}, "y2": {"datum": -88.98}}},
      {"mark": {"type": "text", "text": "LXI", "font": "DejaVu Sans", "fontSize": 8, "fontWeight": "bold", "fontStyle": "italic", "color": "#666666"}, "encoding": {"x": {"datum": 8.21}, "y": {"datum": -87.4}}},
      {"mark": {"type": "text", "text": "Measuring...", "font": "DejaVu Sans", "fontSize": 9, "fontWeight": "bold", "color": "#f4f4f4", "align": "left"}, "encoding": {"x": {"datum": 5.67}, "y": {"datum": -87.6}}},
      {"mark": {"type": "text", "text": "28.11.2017", "font": "DejaVu Sans", "fontSize": 8, "fontWeight": "bold", "color": "#f6f6f6", "align": "left"}, "encoding": {"x": {"datum": 8.92}, "y": {"datum": -86.4}}},
      {"mark": {"type": "text", "style": "dt", "text": "Date: 28.NOV.2017 \u00a015:05:22"}, "encoding": {"x": {"datum": -0.034}, "y": {"datum": -95.4}}},
      {"mark": {"type": "rule", "color": "black", "strokeWidth": 2}, "encoding": {"x": {"datum": 10.101}, "y": {"datum": 62.265}, "y2": {"datum": -109.7}}}
     ]},
     {"layer": [
      {"data": {"name": "high"}, "mark": {"type": "line", "color": "#2332f2", "strokeWidth": 1.2}, "encoding": {"x": {"field": "f", "type": "quantitative", "scale": {"domain": [2439.212, 2526.093], "nice": false, "zero": false}}, "y": {"field": "p", "type": "quantitative"}}},
      {"mark": {"type": "point", "shape": "triangle-down", "filled": true, "color": "#2d9ae0", "size": 30, "yOffset": -4, "opacity": 1}, "encoding": {"x": {"datum": 2484.59}, "y": {"datum": -50.72}}},
      {"mark": {"type": "text", "style": "mk", "text": "M1", "fontWeight": "normal", "align": "center", "dy": -13}, "encoding": {"x": {"datum": 2484.59}, "y": {"datum": -50.72}}}
     ]},
     {"layer": [
      {"mark": {"type": "rule", "color": "#ff2020", "strokeWidth": 1}, "encoding": {"x": {"datum": 0, "type": "quantitative", "scale": {"domain": [-0.304, 10.101], "nice": false, "zero": false}}, "x2": {"datum": 10}, "y": {"datum": 8.37}}},
      {"mark": {"type": "rule", "color": "#ff2020", "strokeWidth": 1}, "encoding": {"x": {"datum": 0}, "x2": {"datum": 10}, "y": {"datum": -11.63}}},
      {"mark": {"type": "rule", "color": "#ff2020", "strokeWidth": 1}, "encoding": {"x": {"datum": 5}, "y": {"datum": 20}, "y2": {"datum": -80}}},
      {"mark": {"type": "rect", "color": "white"}, "encoding": {"x": {"datum": 1.0135}, "x2": {"datum": 2.22}, "y": {"datum": 10.15}, "y2": {"datum": 7.96}}},
      {"mark": {"type": "rect", "color": "white"}, "encoding": {"x": {"datum": 1.40}, "x2": {"datum": 2.75}, "y": {"datum": -9.7}, "y2": {"datum": -13.1}}},
      {"mark": {"type": "rect", "color": "white"}, "encoding": {"x": {"datum": 4.87}, "x2": {"datum": 5.12}, "y": {"datum": -73.3}, "y2": {"datum": -76.8}}},
      {"mark": {"type": "text", "style": "rd", "text": "D1 \u00a08.370 dBm"}, "encoding": {"x": {"datum": 1.03}, "y": {"datum": 8.37}}},
      {"mark": {"type": "text", "style": "rd", "text": "D2 \u00a0-11.630 dBm"}, "encoding": {"x": {"datum": 1.419}, "y": {"datum": -11.63}}},
      {"mark": {"type": "text", "style": "rd", "text": "F1", "align": "center", "fontSize": 9.5}, "encoding": {"x": {"datum": 5.0}, "y": {"datum": -75.0}}},
      {"mark": {"type": "text", "style": "mk", "text": "M1[1]", "align": "left"}, "encoding": {"x": {"datum": 5.811}, "y": {"datum": 17.8}}},
      {"mark": {"type": "text", "style": "mk", "text": "-50.72 dBm", "align": "right"}, "encoding": {"x": {"datum": 9.961}, "y": {"datum": 17.8}}},
      {"mark": {"type": "text", "style": "mk", "text": "2.484590 GHz", "align": "right"}, "encoding": {"x": {"datum": 9.961}, "y": {"datum": 14.09}}}
     ]}
    ]}
  ]}
]
}
